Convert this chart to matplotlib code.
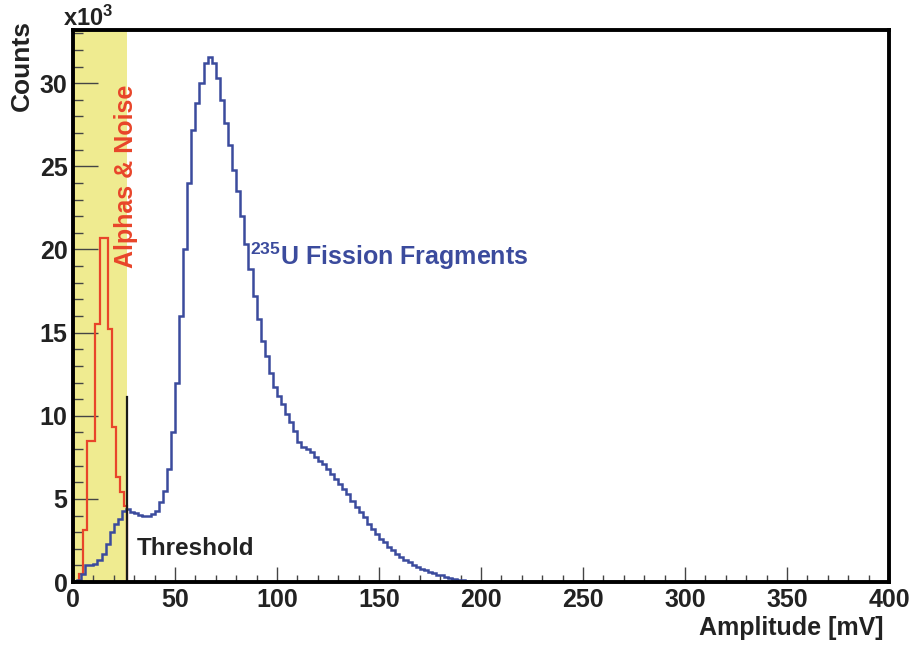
import numpy as np
import matplotlib.pyplot as plt

plt.rcParams['font.family'] = ['Liberation Sans', 'DejaVu Sans']
plt.rcParams['font.weight'] = 'bold'
plt.rcParams['mathtext.fontset'] = 'custom'
plt.rcParams['mathtext.rm'] = 'Liberation Sans:bold'
plt.rcParams['mathtext.default'] = 'rm'

# amplitude spectrum, counts in units of 10^3, 2 mV bins starting at 0 mV
BIN_MV = 2.0
fission_counts = [
    0.05, 0.15, 0.5, 1.0, 1.05, 1.1, 1.3, 1.7, 2.3, 3.0,          # 0-20
    3.5, 3.8, 4.3, 4.4, 4.2, 4.15, 4.05, 4.0, 4.0, 4.1,           # 20-40
    4.3, 4.8, 5.5, 6.8, 9.0, 12.0, 16.0, 20.0, 24.0, 27.2,        # 40-60
    28.8, 30.0, 31.2, 31.6, 31.2, 30.3, 29.0, 27.6, 26.3, 24.8,   # 60-80
    23.5, 22.0, 20.3, 18.8, 17.2, 15.8, 14.5, 13.6, 12.6, 11.7,   # 80-100
    11.2, 10.7, 10.1, 9.6, 9.1, 8.4, 8.1, 8.0, 7.8, 7.5,          # 100-120
    7.3, 7.1, 6.8, 6.5, 6.2, 5.9, 5.6, 5.3, 4.9, 4.5,             # 120-140
    4.2, 3.9, 3.5, 3.2, 2.9, 2.6, 2.4, 2.1, 1.9, 1.7,             # 140-160
    1.5, 1.3, 1.2, 1.05, 0.9, 0.8, 0.7, 0.6, 0.55, 0.45,          # 160-180
    0.4, 0.3, 0.25, 0.2, 0.15, 0.1, 0.08, 0.05, 0.03, 0.02,       # 180-200
]

# alpha / noise component, 2 mV bins starting at 1 mV, cut at the threshold
ALPHA_START = 1.0
alpha_counts = [0.0, 0.5, 3.1, 8.5, 8.5, 15.5, 20.7, 20.7, 15.2, 9.3, 6.3, 5.4, 4.6]

threshold_mv = 26.5
threshold_top = 11.1

fission_edges = np.arange(len(fission_counts) + 1) * BIN_MV
alpha_edges = ALPHA_START + np.arange(len(alpha_counts) + 1) * BIN_MV
alpha_edges[-1] = min(alpha_edges[-1], threshold_mv)

fig = plt.figure(figsize=(9.17, 6.46), dpi=100)
ax = fig.add_axes([0.0796, 0.099, 0.8899, 0.8546])

ax.axvspan(0, threshold_mv, color='#efeb90', lw=0, zorder=0)
ax.stairs(fission_counts, fission_edges, color='#3b4b9d', lw=1.8, zorder=3)
ax.stairs(alpha_counts, alpha_edges, color='#e8452a', lw=1.6, zorder=2)
ax.plot([threshold_mv, threshold_mv], [0, threshold_top], color='#1a1a1a', lw=1.6, zorder=4)

ax.set_xlim(0, 400)
ax.set_ylim(0, 33.2)
ax.set_xticks(np.arange(0, 401, 50))
ax.set_xticks(np.arange(0, 401, 10), minor=True)
ax.set_yticks(np.arange(0, 31, 5))
ax.set_yticks(np.arange(0, 34, 1), minor=True)

ax.tick_params(which='both', direction='in', color='#444444', width=1,
               labelsize=18, top=False, right=False)
ax.tick_params(axis='x', which='major', length=11, pad=4)
ax.tick_params(axis='x', which='minor', length=5)
ax.tick_params(axis='y', which='major', length=18, pad=4)
ax.tick_params(axis='y', which='minor', length=7)
for lab in ax.get_xticklabels() + ax.get_yticklabels():
    lab.set_fontweight('bold')
    lab.set_color('#222222')

for sp in ax.spines.values():
    sp.set_linewidth(2.8)
    sp.set_color('black')
    sp.set_zorder(5)

fig.text(0.024, 0.969, 'Counts', rotation=90, ha='center', va='top',
         fontsize=19, fontweight='bold', color='#222222')
fig.text(0.069, 0.972, r'x10$^{3}$', ha='left', va='center',
         fontsize=17, fontweight='bold', color='#222222')
fig.text(0.963, 0.028, 'Amplitude [mV]', ha='right', va='center',
         fontsize=18, fontweight='bold', color='#222222')

ax.text(26.0, 24.4, 'Alphas & Noise', rotation=90, ha='center', va='center',
        fontsize=18, fontweight='bold', color='#e8452a', zorder=6)
ax.text(87.0, 19.6, r'$^{235}$U Fission Fragments', ha='left', va='center',
        fontsize=18, fontweight='bold', color='#3b4b9d', zorder=6)
ax.text(31.4, 2.0, 'Threshold', ha='left', va='center',
        fontsize=17.5, fontweight='bold', color='#222222', zorder=6)

fig.savefig('out.png', dpi=100)
